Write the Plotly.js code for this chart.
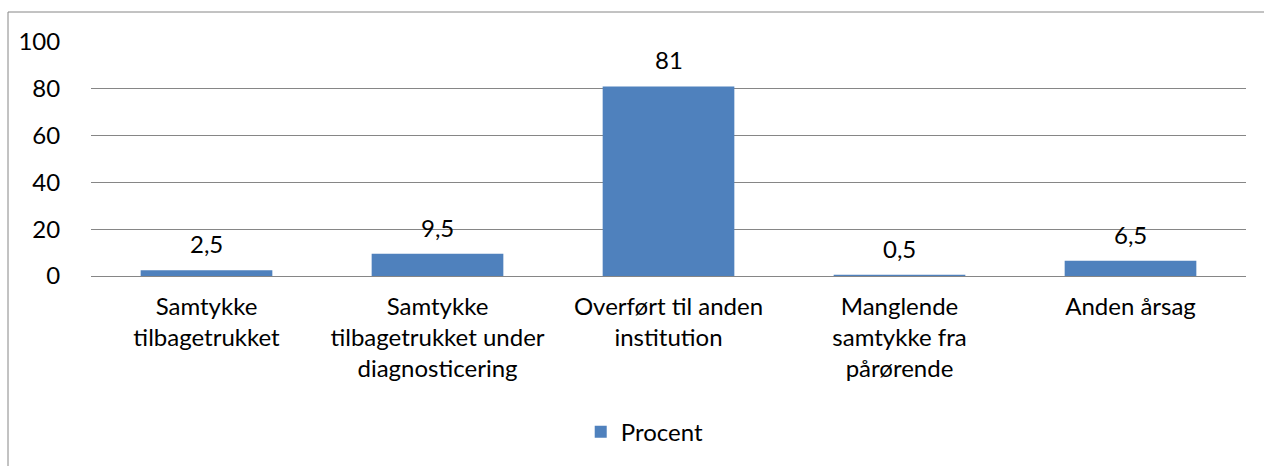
<!DOCTYPE html>
<html>
<head>
<meta charset="utf-8">
<script src="https://cdn.plot.ly/plotly-3.0.1.min.js"></script>
<style>
  body { margin: 0; background: #fff; }
  #chart { width: 1264px; height: 466px; }
</style>
</head>
<body>
<div id="chart"></div>
<script>
const categories = [
  'Samtykke<br>tilbagetrukket',
  'Samtykke<br>tilbagetrukket under<br>diagnosticering',
  'Overført til anden<br>institution',
  'Manglende<br>samtykke fra<br>pårørende',
  'Anden årsag'
];
const procent = [2.5, 9.5, 81, 0.5, 6.5];
const yTicks = [0, 20, 40, 60, 80, 100];

const FONT = 'Lato, "Open Sans", sans-serif';
const FS = 24;
const GRID = '#868686';

function chartBuild() {
  let bars = {
    type: 'bar',
    name: 'Procent',
    x: categories,
    y: procent,
    marker: { color: '#4F81BD' },
    hoverinfo: 'none'
  };

  // value labels above each bar, decimal comma like the original
  let labels = categories.map((c, i) => ({
    x: c,
    y: procent[i],
    xref: 'x',
    yref: 'y',
    text: String(procent[i]).replace('.', ','),
    showarrow: false,
    yanchor: 'bottom',
    yshift: 10,
    font: { family: FONT, size: FS, color: '#000' }
  }));

  let layout = {
    width: 1264,
    height: 466,
    margin: { l: 91, r: 18, t: 42, b: 190 },
    paper_bgcolor: '#fff',
    plot_bgcolor: '#fff',
    font: { family: FONT, size: FS, color: '#000' },
    bargap: 0.43,
    showlegend: true,
    xaxis: {
      type: 'category',
      showgrid: false,
      showline: true,
      linecolor: GRID,
      linewidth: 1,
      ticks: 'outside',
      ticklen: 9,
      tickcolor: 'rgba(0,0,0,0)',
      tickfont: { family: FONT, size: FS, color: '#000' }
    },
    yaxis: {
      range: [0, 100],
      tickvals: yTicks,
      showgrid: true,
      gridcolor: GRID,
      gridwidth: 1,
      zeroline: false,
      showline: false,
      ticks: 'outside',
      ticklen: 25,
      tickcolor: 'rgba(0,0,0,0)',
      tickfont: { family: FONT, size: FS, color: '#000' }
    },
    legend: {
      orientation: 'h',
      x: 0.424,
      xanchor: 'left',
      y: -0.667,
      yanchor: 'middle',
      font: { family: FONT, size: FS, color: '#000' }
    },
    annotations: labels,
    shapes: [{
      type: 'rect',
      xref: 'paper',
      yref: 'paper',
      x0: -83 / 1155,
      x1: 1.2,
      y0: -1.2,
      y1: 1 + 30 / 234,
      line: { color: GRID, width: 1 },
      fillcolor: 'rgba(0,0,0,0)',
      layer: 'below'
    }]
  };

  Plotly.newPlot('chart', [bars], layout, { displayModeBar: false, staticPlot: true });
}
chartBuild();
</script>
</body>
</html>
